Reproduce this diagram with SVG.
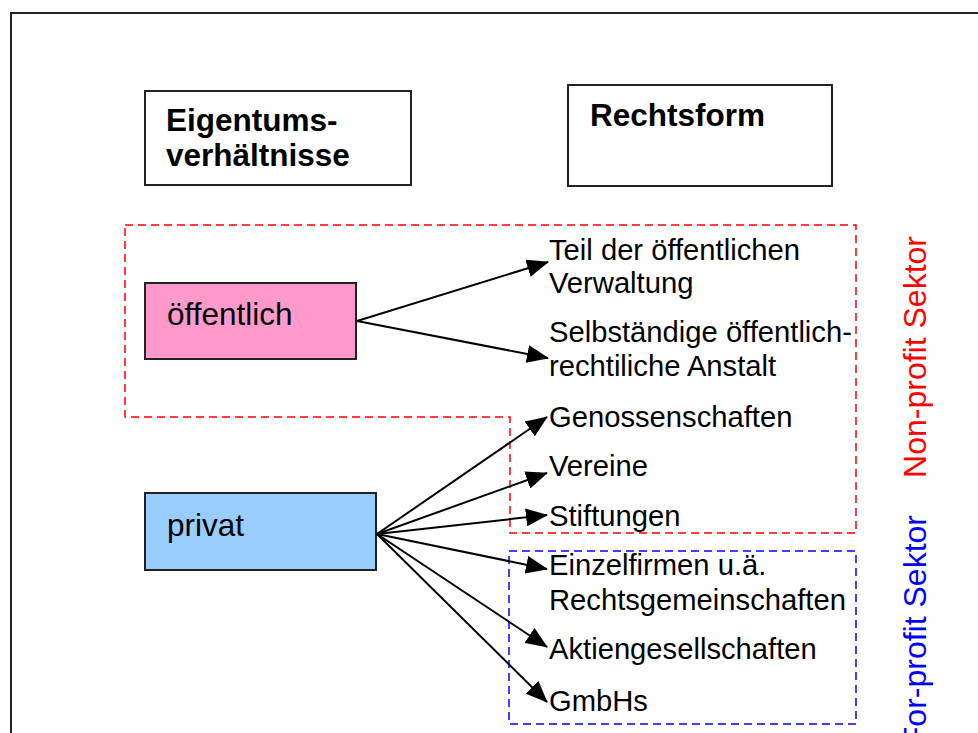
<svg xmlns="http://www.w3.org/2000/svg" width="978" height="733" viewBox="0 0 978 733">
<style>
.box{stroke:#222;stroke-width:2}
.lbl{font-family:"Liberation Sans",Arial,sans-serif;font-size:31.5px;fill:#000}
.hd{font-family:"Liberation Sans",Arial,sans-serif;font-size:31.5px;font-weight:bold;fill:#000}
.it{font-family:"Liberation Sans",Arial,sans-serif;font-size:29.2px;fill:#000}
.sec{font-family:"Liberation Sans",Arial,sans-serif;font-size:32px}
.con{stroke:#000;stroke-width:2;fill:none;marker-end:url(#ah)}
</style>
<defs>
<marker id="ah" markerUnits="userSpaceOnUse" markerWidth="22" markerHeight="18" refX="21" refY="9" orient="auto">
<path d="M0,0 L22,9 L0,18 z" fill="#000"/>
</marker>
</defs>
<rect width="978" height="733" fill="#fff"/>
<path d="M11,740 V13 H990" fill="none" stroke="#222" stroke-width="2"/>

<g id="region-nonprofit">
<path d="M125,225 H856 V533 H510 V417 H125 Z" fill="none" stroke="#f00" stroke-width="1.5" stroke-dasharray="8,5"/>
</g>
<g id="region-forprofit">
<rect x="509" y="551" width="347" height="173" fill="none" stroke="#00f" stroke-width="1.5" stroke-dasharray="8,5"/>
</g>

<g id="eigentum">
<rect class="box" x="145" y="91" width="266" height="94" fill="#fff"/>
<text class="hd" x="166" y="131">Eigentums-</text>
<text class="hd" x="166" y="166">verhältnisse</text>
</g>
<g id="rechtsform">
<rect class="box" x="568" y="85" width="264" height="101" fill="#fff"/>
<text class="hd" x="590" y="126">Rechtsform</text>
</g>
<g id="oeffentlich">
<rect class="box" x="145" y="283" width="211" height="76" fill="#FF99CC"/>
<text class="lbl" x="167" y="325">öffentlich</text>
</g>
<g id="privat">
<rect class="box" x="145" y="493" width="231" height="77" fill="#99CCFF"/>
<text class="lbl" x="167" y="536">privat</text>
</g>

<g id="items">
<text class="it" x="549" y="260">Teil der öffentlichen</text>
<text class="it" x="549" y="293">Verwaltung</text>
<text class="it" x="549" y="342">Selbständige öffentlich-</text>
<text class="it" x="549" y="376">rechtiliche Anstalt</text>
<text class="it" x="549" y="427">Genossenschaften</text>
<text class="it" x="549" y="476">Vereine</text>
<text class="it" x="549" y="526">Stiftungen</text>
<text class="it" x="549" y="575">Einzelfirmen u.ä.</text>
<text class="it" x="549" y="610">Rechtsgemeinschaften</text>
<text class="it" x="549" y="659">Aktiengesellschaften</text>
<text class="it" x="549" y="711">GmbHs</text>
</g>

<g id="sector-labels">
<text class="sec" fill="#f00" text-anchor="end" transform="translate(926,236) rotate(-90)">Non-profit Sektor</text>
<text class="sec" fill="#00f" text-anchor="end" transform="translate(926,515) rotate(-90)">For-profit Sektor</text>
</g>

<g id="connectors">
<line class="con" x1="357" y1="321" x2="548" y2="262"/>
<line class="con" x1="357" y1="321" x2="548" y2="358"/>
<line class="con" x1="377" y1="534" x2="547" y2="417"/>
<line class="con" x1="377" y1="534" x2="547" y2="473"/>
<line class="con" x1="377" y1="534" x2="547" y2="515"/>
<line class="con" x1="377" y1="534" x2="547" y2="569"/>
<line class="con" x1="377" y1="534" x2="547" y2="647"/>
<line class="con" x1="377" y1="534" x2="547" y2="702"/>
</g>
</svg>
